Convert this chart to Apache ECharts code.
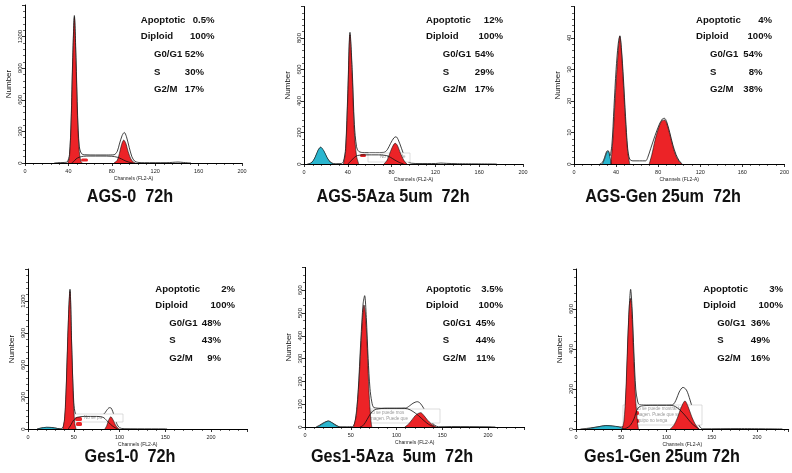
<!DOCTYPE html>
<html><head><meta charset="utf-8">
<script src="https://cdn.jsdelivr.net/npm/echarts@6/dist/echarts.min.js"></script>
<style>html,body{margin:0;padding:0;background:#fff}#c{width:792px;height:473px}</style>
</head><body><div id="c"></div>
<script>
// ---------- DATA ----------
const titles = ['AGS-0  72h', 'AGS-5Aza 5um  72h', 'AGS-Gen 25um  72h', 'Ges1-0  72h', 'Ges1-5Aza  5um  72h', 'Ges1-Gen 25um 72h'];
const statNames = ['Apoptotic', 'Diploid', 'G0/G1', 'S', 'G2/M'];
const stats1 = ['0.5%', '100%', '52%', '30%', '17%'];
const stats2 = ['12%', '100%', '54%', '29%', '17%'];
const stats3 = ['4%', '100%', '54%', '8%', '38%'];
const stats4 = ['2%', '100%', '48%', '43%', '9%'];
const stats5 = ['3.5%', '100%', '45%', '44%', '11%'];
const stats6 = ['3%', '100%', '36%', '49%', '16%'];
const xTicksTop = [0, 40, 80, 120, 160, 200];
const xTicksBottom = [0, 50, 100, 150, 200];
const yTicks1 = [0, 300, 600, 900, 1200];
const yTicks2 = [0, 200, 400, 600, 800];
const yTicks3 = [0, 10, 20, 30, 40];
const yTicks4 = [0, 300, 600, 900, 1200];
const yTicks5 = [0, 100, 200, 300, 400, 500, 600];
const yTicks6 = [0, 200, 400, 600];
const xAxisName = 'Channels (FL2-A)';
const yAxisName = 'Number';
const boxLines2 = ['No se puede'];
const boxLines4 = ['No se pu'];
const boxLines5 = ['No se puede mos', 'imagen. Puede que'];
const boxLines6 = ['No se puede mostrar la', 'imagen. Puede que su', 'equipo no tenga'];

// Panel 1 AGS-0
const p1Total = [[27,0],[30,3],[36,5],[39,12],[41,80],[42.5,400],[44,1000],[45.5,1400],[47,1000],[48.5,450],[50,160],[52,90],[55,78],[65,76],[75,76],[82,78],[85,110],[87,180],[89.5,260],[91.5,290],[93.5,250],[96,150],[98.5,60],[101,18],[104,6],[110,3],[130,3],[136,6],[141,9],[146,5],[150,2],[153,0]];
const p1G1 = [[39.5,0],[41,60],[42.5,370],[44,960],[45.5,1380],[47,950],[48.5,400],[50,110],[51.5,15],[53,0]];
const p1G2 = [[82,0],[85,25],[87,90],[89,175],[91,218],[93,185],[95,110],[97.5,40],[100,8],[102,0]];
const p1S = [[43,0],[45,15],[47,38],[50,55],[54,64],[60,66],[70,66],[80,64],[85,55],[89,38],[93,18],[97,5],[100,0]];
// Panel 2 AGS-5Aza
const p2Total = [[3,0],[6,4],[9,25],[12,70],[15,106],[18,80],[21,40],[24,12],[27,3],[30,2],[34,3],[36,15],[38,100],[40,450],[42,836],[44,600],[46,250],[48,110],[50,80],[55,72],[65,72],[73,74],[76,90],[79,130],[82,165],[84,173],[86,155],[89,100],[92,45],[95,15],[98,5],[105,3],[120,3],[125,6],[130,4],[140,2],[176,0]];
const p2Apo = [[4,0],[7,10],[10,40],[13,90],[15.3,106],[18,85],[21,42],[24,12],[27,0]];
const p2G1 = [[36,0],[38,80],[40,420],[42,820],[44,560],[46,200],[48,50],[50,0]];
const p2G2 = [[73,0],[76,25],[79,80],[82,125],[83.5,131],[85.5,115],[88,70],[91,25],[94,0]];
const p2S = [[40,0],[43,20],[46,42],[49,54],[55,58],[68,58],[75,54],[79,42],[83,25],[87,10],[91,0]];
// Panel 3 AGS-Gen
const p3Total = [[24.5,0],[27,0.5],[29,2],[31,4],[32.5,4.2],[34,2.5],[36,6],[38,18],[40,30],[42,38],[43.6,40.7],[45,37],[47,27],[49,15],[51,5],[53,1.5],[56,1],[68,1],[70,2],[73,5],[77,9],[81,12.5],[84,14.3],[86,14.5],[88,13.5],[91,10],[94,6],[97,3],[100,1],[103,0]];
const p3Apo = [[27,0],[29,1.5],[31,3.5],[32.5,4.1],[34,2.5],[35.5,0]];
const p3G1 = [[35,0],[37,8],[39,20],[41,31],[43.6,40.5],[45,36],[47,25],[49,13],[51,4],[53,0]];
const p3G2 = [[71.5,0],[74,3],[77,7.5],[80,11],[83,13.5],[86,14],[88,13],[91,9.5],[94,5.5],[97,2.5],[100,0.8],[102.5,0]];
// Panel 4 Ges1-0
const p4Total = [[10,0],[14,8],[20,15],[26,14],[32,5],[36,3],[39,30],[41,200],[43,700],[45.9,1310],[48,700],[50,250],[52,140],[55,130],[65,130],[78,130],[83,140],[86,175],[89,200],[91,195],[94,130],[97,50],[100,12],[105,3],[120,2],[150,1],[152,0]];
const p4Apo = [[10,0],[14,8],[20,16],[26,14],[32,5],[35,0]];
const p4G1 = [[38,0],[40,100],[42,450],[44,1000],[45.9,1290],[47.5,850],[49.5,300],[51,60],[52.5,0]];
const p4G2 = [[84,0],[86,30],[88,80],[90.5,115],[93,85],[95.5,40],[98,10],[100,0]];
const p4S = [[44,0],[47,40],[50,85],[54,110],[62,118],[75,118],[82,110],[86,80],[90,45],[94,18],[98,0]];
// Panel 5 Ges1-5Aza
const p5Total = [[12,0],[16,8],[20,18],[25.5,26],[30,18],[34,8],[38,1],[45,1],[52,2],[55,30],[58,150],[61,380],[63.5,540],[65.2,576],[67,480],[69,300],[71,170],[73,110],[75.4,85],[85,82],[100,82],[110,83],[114,92],[118,104],[122.7,111],[126,104],[130,80],[134,50],[138,22],[142,7],[146,1],[160,2],[200,1],[208,0]];
const p5Apo = [[13,0],[16,6],[20,16],[25.5,26],[30,17],[34,6],[38,0]];
const p5G1 = [[53,0],[56,50],[59,200],[62,420],[64.5,535],[66,500],[68,350],[70,150],[72,30],[73,0]];
const p5G2 = [[109,0],[113,12],[117,32],[121,52],[126.4,63],[130,50],[134,30],[138,14],[141,5],[143.5,0]];
const p5S = [[60,0],[63,5],[66,20],[70,48],[73,66],[78,78],[90,82],[105,82],[112,80],[118,68],[124,50],[130,28],[135,12],[139,4],[141,0]];
// Panel 6 Ges1-Gen
const p6Total = [[5,0],[12,3],[20,8],[28,14],[33,17],[40,15],[48,10],[52,12],[54,60],[56,250],[58,520],[60.4,698],[62,600],[64,380],[66,200],[68,140],[70,122],[80,120],[100,120],[107,122],[111,150],[114,185],[118.2,208],[122,195],[126,145],[130,85],[134,35],[137,10],[140,1],[180,2],[228,0]];
const p6Apo = [[12,0],[18,5],[25,11],[33,17],[40,15],[47,11],[53,0]];
const p6G1 = [[51,0],[53,40],[55,180],[57,420],[59,620],[60.4,653],[62,560],[64,330],[66,140],[68,30],[69,0]];
const p6G2 = [[104,0],[108,18],[112,55],[116,105],[120.4,140],[124,110],[128,60],[132,22],[136,0]];
const p6S = [[52,0],[56,5],[60,18],[64,50],[67.8,100],[72,115],[85,118],[105,118],[110,112],[116,90],[122,60],[127,32],[132,12],[136,0]];

// ---------- LAYOUT ----------
const RED = '#ec2327', CYAN = '#2bb6cf';
const panels = [
  {grid:{left:25,top:5,width:217,height:158}, xMax:200, xInt:40, xTicks:xTicksTop, yMax:1500, yInt:300, yMinor:5, yTicks:yTicks1,
   total:p1Total, apo:null, g1:p1G1, g2:p1G2, s:p1S, stats:stats1, tx:130, ty:197, sx:140.7, ix:154, e1:214.5, e2:204, sy:20.7, box:null,
   icons:[{x:81,y:158.5,w:7,h:3}]},
  {grid:{left:304,top:6.5,width:219,height:157.5}, xMax:200, xInt:40, xTicks:xTicksTop, yMax:1000, yInt:200, yMinor:5, yTicks:yTicks2,
   total:p2Total, apo:p2Apo, g1:p2G1, g2:p2G2, s:p2S, stats:stats2, tx:393, ty:197, sx:426, ix:442.7, e1:503, e2:494, sy:20.7,
   box:{x:368,y:153,w:42,h:9,lines:boxLines2}, icons:[{x:360,y:154,w:6,h:3}]},
  {grid:{left:574,top:6.5,width:219,height:157.5}, xMax:200, xInt:40, xTicks:xTicksTop, yMax:50, yInt:10, yMinor:5, yTicks:yTicks3,
   total:p3Total, apo:p3Apo, g1:p3G1, g2:p3G2, s:null, stats:stats3, tx:663, ty:197, sx:696, ix:710, e1:772, e2:762.5, sy:20.7, box:null, icons:[]},
  {grid:{left:28,top:269,width:219.6,height:160}, xMax:240, xInt:50, xTicks:xTicksBottom, yMax:1500, yInt:300, yMinor:5, yTicks:yTicks4,
   total:p4Total, apo:p4Apo, g1:p4G1, g2:p4G2, s:p4S, stats:stats4, tx:130, ty:457, sx:155.3, ix:169.3, e1:235, e2:221, sy:289.3,
   box:{x:72,y:414,w:51,h:8,lines:boxLines4}, icons:[{x:75,y:417,w:7,h:4},{x:76,y:422,w:6,h:4}]},
  {grid:{left:305,top:267.4,width:219.6,height:159.6}, xMax:240, xInt:50, xTicks:xTicksBottom, yMax:700, yInt:100, yMinor:3, yTicks:yTicks5,
   total:p5Total, apo:p5Apo, g1:p5G1, g2:p5G2, s:p5S, stats:stats5, tx:392, ty:457, sx:426, ix:442.7, e1:503, e2:495, sy:289.3,
   box:{x:357,y:409,w:83,h:14,lines:boxLines5}, icons:[{x:361,y:412,w:4,h:3},{x:361,y:418,w:4,h:3}]},
  {grid:{left:576,top:269,width:212.7,height:160}, xMax:235, xInt:50, xTicks:xTicksBottom, yMax:800, yInt:200, yMinor:5, yTicks:yTicks6,
   total:p6Total, apo:p6Apo, g1:p6G1, g2:p6G2, s:p6S, stats:stats6, tx:662, ty:457, sx:703.3, ix:717.3, e1:783, e2:770, sy:289.3,
   box:{x:623,y:405,w:79,h:20,lines:boxLines6}, icons:[{x:634,y:411,w:5,h:4},{x:634,y:419,w:5,h:4}]}
];

const FONT = '"Liberation Sans", Arial, Helvetica, sans-serif';
const SFONT = 'bold 9.6px ' + FONT;
const grids = [], xAxes = [], yAxes = [], series = [], graphics = [];
panels.forEach((p, i) => {
  grids.push(Object.assign({containLabel:false}, p.grid));
  xAxes.push({
    gridIndex:i, type:'value', min:0, max:p.xMax, interval:p.xInt, z:4,
    axisLine:{show:true, onZero:false, lineStyle:{color:'#000', width:1}},
    axisTick:{show:true, length:3, lineStyle:{color:'#000', width:0.8}},
    minorTick:{show:true, splitNumber:5, length:2, lineStyle:{color:'#000', width:0.6}},
    splitLine:{show:false}, minorSplitLine:{show:false},
    axisLabel:{fontSize:5.5, color:'#222', margin:5, fontFamily:FONT,
      formatter:(v) => p.xTicks.indexOf(v) >= 0 ? String(v) : ''},
    name:xAxisName, nameLocation:'middle', nameGap:13,
    nameTextStyle:{fontSize:5, color:'#222', fontFamily:FONT}
  });
  yAxes.push({
    gridIndex:i, type:'value', min:0, max:p.yMax, interval:p.yInt, z:4,
    axisLine:{show:true, onZero:false, lineStyle:{color:'#000', width:1}},
    axisTick:{show:true, length:3, lineStyle:{color:'#000', width:0.8}},
    minorTick:{show:true, splitNumber:p.yMinor, length:2, lineStyle:{color:'#000', width:0.6}},
    splitLine:{show:false}, minorSplitLine:{show:false},
    axisLabel:{fontSize:6, color:'#222', margin:2, rotate:90, fontFamily:FONT,
      formatter:(v) => p.yTicks.indexOf(v) >= 0 ? String(v) : ''},
    name:yAxisName, nameLocation:'middle', nameGap:12,
    nameTextStyle:{fontSize:8, color:'#111', fontFamily:FONT}
  });
  const base = {type:'line', xAxisIndex:i, yAxisIndex:i, smooth:0.3, symbol:'none', showSymbol:false, silent:true, animation:false, clip:true};
  series.push(Object.assign({}, base, {data:p.total, z:1, lineStyle:{color:'#111', width:0.8}, areaStyle:{color:'#fff', opacity:1}}));
  if (p.apo) series.push(Object.assign({}, base, {data:p.apo, z:3, lineStyle:{color:'#111', width:0.6}, areaStyle:{color:CYAN, opacity:1}}));
  series.push(Object.assign({}, base, {data:p.g1, z:3, lineStyle:{color:'#111', width:0.6}, areaStyle:{color:RED, opacity:1}}));
  series.push(Object.assign({}, base, {data:p.g2, z:3, lineStyle:{color:'#111', width:0.6}, areaStyle:{color:RED, opacity:1}}));
  if (p.s) series.push(Object.assign({}, base, {data:p.s, z:3, lineStyle:{color:'#111', width:0.8}}));

  // stats text
  const rowDy = [0, 16, 33.8, 51.2, 68.6];
  statNames.forEach((nm, k) => {
    const y = p.sy + rowDy[k];
    const lx = k < 2 ? p.sx : p.ix;
    const rx = k < 2 ? p.e1 : p.e2;
    graphics.push({type:'text', x:lx, y:y, z:10, style:{text:nm, fill:'#111', font:SFONT, textAlign:'left', textVerticalAlign:'middle', align:'left', verticalAlign:'middle'}});
    graphics.push({type:'text', x:rx, y:y, z:10, style:{text:p.stats[k], fill:'#111', font:SFONT, textAlign:'right', textVerticalAlign:'middle', align:'right', verticalAlign:'middle'}});
  });
  // title
  graphics.push({type:'text', x:p.tx, y:p.ty, scaleX:0.9, z:10, style:{text:titles[i], fill:'#111', font:'bold 18px ' + FONT, textAlign:'center', textVerticalAlign:'middle', align:'center', verticalAlign:'middle'}});
  // broken-image placeholder boxes
  if (p.box) {
    graphics.push({type:'rect', z:2, shape:{x:p.box.x, y:p.box.y, width:p.box.w, height:p.box.h}, style:{fill:'#fff', stroke:'#c8c8c8', lineWidth:0.6}});
    p.box.lines.forEach((t, k) => {
      graphics.push({type:'text', z:2, x:p.box.x + 12, y:p.box.y + 3.5 + k * 6, style:{text:t, fill:'#9a9a9a', font:'4.5px ' + FONT, textAlign:'left', textVerticalAlign:'middle', align:'left', verticalAlign:'middle'}});
    });
  }
  p.icons.forEach(ic => {
    graphics.push({type:'rect', z:2, shape:{x:ic.x, y:ic.y, width:ic.w, height:ic.h, r:1.5}, style:{fill:RED}});
  });
});

const chart = echarts.init(document.getElementById('c'), null, {renderer:'canvas'});
chart.setOption({
  animation:false, backgroundColor:'#fff',
  grid:grids, xAxis:xAxes, yAxis:yAxes, series:series, graphic:graphics
});
</script>
</body></html>
